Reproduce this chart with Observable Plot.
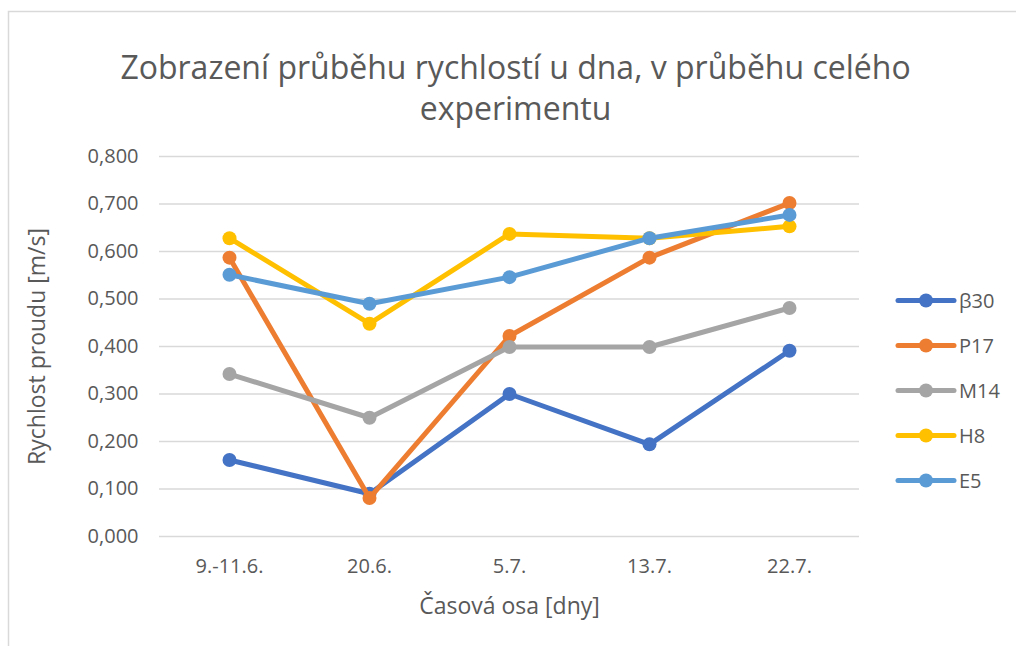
<!DOCTYPE html>
<html>
<head>
<meta charset="utf-8">
<script src="https://cdn.jsdelivr.net/npm/d3@7"></script>
<script src="https://cdn.jsdelivr.net/npm/@observablehq/plot@0.6"></script>
<style>
  html, body { margin: 0; padding: 0; background: #fff; }
  #chart { position: relative; width: 1016px; height: 646px; }
  #chart svg { font-family: "Open Sans", sans-serif; }
</style>
</head>
<body>
<div id="chart"></div>
<script>
const categories = ["9.-11.6.", "20.6.", "5.7.", "13.7.", "22.7."];
const seriesNames = ["β30", "P17", "M14", "H8", "E5"];
const seriesColors = ["#4472C4", "#ED7D31", "#A5A5A5", "#FFC000", "#5B9BD5"];
const beta30 = [0.161, 0.090, 0.300, 0.194, 0.391];
const p17 = [0.587, 0.081, 0.422, 0.587, 0.702];
const m14 = [0.342, 0.250, 0.399, 0.399, 0.481];
const h8 = [0.628, 0.448, 0.637, 0.628, 0.653];
const e5 = [0.551, 0.490, 0.546, 0.628, 0.677];
const yTicks = [0, 0.1, 0.2, 0.3, 0.4, 0.5, 0.6, 0.7, 0.8];
const titleLines = ["Zobrazení průběhu rychlostí u dna, v průběhu celého", "experimentu"];
const xTitle = "Časová osa [dny]";
const yTitle = "Rychlost proudu [m/s]";

const seriesValues = [beta30, p17, m14, h8, e5];
const rows = seriesNames.map((name, i) => ({
  name, color: seriesColors[i],
  data: categories.map((c, j) => ({category: c, value: seriesValues[i][j], series: name}))
}));

const fmt = d => d3.format(".3f")(d).replace(".", ",");

const seriesMarks = rows.flatMap(r => [
  Plot.line(r.data, {x: "category", y: "value", stroke: r.color, strokeWidth: 5, strokeLinejoin: "round", strokeLinecap: "round"}),
  Plot.dot(r.data, {x: "category", y: "value", fill: r.color, r: 7, stroke: "none"})
]);

const plot = Plot.plot({
  width: 1016,
  height: 646,
  marginLeft: 159,
  marginRight: 157,
  marginTop: 156,
  marginBottom: 110,
  style: {color: "#595959", background: "#fff", overflow: "visible"},
  x: {type: "point", domain: categories, padding: 0.5, label: null},
  y: {domain: [0, 0.8], label: null},
  marks: [
    Plot.gridY(yTicks, {stroke: "#d9d9d9", strokeOpacity: 1, strokeWidth: 1.5}),
    Plot.axisY(yTicks, {tickSize: 0, tickPadding: 21, tickFormat: fmt, fontSize: 20, label: null}),
    Plot.axisX({tickSize: 0, tickPadding: 22, fontSize: 20, label: null}),
    ...seriesMarks,
    Plot.text([titleLines[0]], {frameAnchor: "top", dx: 6, dy: -88, fontSize: 32, lineAnchor: "middle", fill: "#595959"}),
    Plot.text([titleLines[1]], {frameAnchor: "top", dx: 6, dy: -47, fontSize: 32, lineAnchor: "middle", fill: "#595959"}),
    Plot.text([xTitle], {frameAnchor: "bottom", dy: 70, fontSize: 23, lineAnchor: "middle", fill: "#595959"}),
    Plot.text([yTitle], {frameAnchor: "left", dx: -122, rotate: -90, fontSize: 23, textAnchor: "middle", lineAnchor: "middle", fill: "#595959"})
  ]
});

document.getElementById("chart").appendChild(plot);

// chart area border (top and left edges visible)
const svg = d3.select(plot);
svg.insert("path", ":first-child")
  .attr("d", "M8.5,700 V11.5 H1100")
  .attr("fill", "none")
  .attr("stroke", "#d9d9d9")
  .attr("stroke-width", 1.5);

// legend
const lg = svg.append("g").attr("aria-label", "legend");
const item = lg.selectAll("g").data(rows).join("g")
  .attr("transform", (d, i) => `translate(0,${300.5 + i * 45})`);
item.append("line").attr("x1", 898).attr("x2", 954).attr("y1", 0).attr("y2", 0)
  .attr("stroke", d => d.color).attr("stroke-width", 5).attr("stroke-linecap", "round");
item.append("circle").attr("cx", 926).attr("cy", 0).attr("r", 7).attr("fill", d => d.color);
item.append("text").attr("x", 959).attr("y", 0).attr("dy", "0.35em")
  .attr("text-anchor", "start")
  .attr("font-size", 20).attr("fill", "#595959").text(d => d.name);
</script>
</body>
</html>
